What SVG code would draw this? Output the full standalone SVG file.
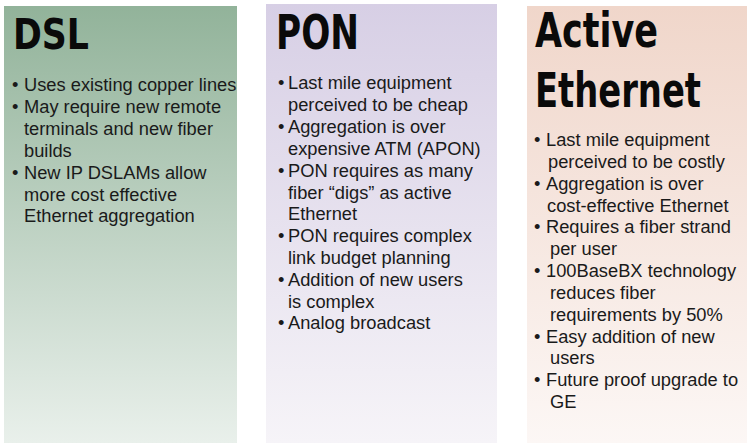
<svg xmlns="http://www.w3.org/2000/svg" width="747" height="443" viewBox="0 0 747 443">
<defs>
<linearGradient id="gDsl" x1="0" y1="0" x2="0" y2="1">
<stop offset="0" stop-color="#92b39a"/>
<stop offset="1" stop-color="#e9f0eb"/>
</linearGradient>
<linearGradient id="gPon" x1="0" y1="0" x2="0" y2="1">
<stop offset="0" stop-color="#d7cfe5"/>
<stop offset="1" stop-color="#f6f4f8"/>
</linearGradient>
<linearGradient id="gAe" x1="0" y1="0" x2="0" y2="1">
<stop offset="0" stop-color="#f0d6ca"/>
<stop offset="1" stop-color="#fcf7f5"/>
</linearGradient>
<style>
.title{font-family:"DejaVu Sans Condensed","Liberation Sans Narrow","Liberation Sans",sans-serif;font-weight:bold;fill:#0a0a0a}
.body{font-family:"Liberation Sans",Arial,sans-serif;font-size:18.3px;fill:#1a1a1a}
</style>
</defs>
<rect width="747" height="443" fill="#ffffff"/>
<g id="dsl">
<rect x="4" y="6" width="233" height="437" fill="url(#gDsl)"/>
<text class="title" x="13" y="48.5" font-size="42" textLength="76" lengthAdjust="spacingAndGlyphs">DSL</text>
<g class="body">
<text x="12" y="91">•</text><text x="24" y="91">Uses existing copper lines</text>
<text x="12" y="113">•</text><text x="24" y="113">May require new remote</text>
<text x="24" y="135">terminals and new fiber</text>
<text x="24" y="157">builds</text>
<text x="12" y="178.5">•</text><text x="24" y="178.5">New IP DSLAMs allow</text>
<text x="24" y="200.5">more cost effective</text>
<text x="24" y="222">Ethernet aggregation</text>
</g>
</g>
<g id="pon">
<rect x="266" y="4" width="231" height="439" fill="url(#gPon)"/>
<text class="title" x="276" y="48.5" font-size="48" textLength="83" lengthAdjust="spacingAndGlyphs">PON</text>
<g class="body">
<text x="278" y="89">•</text><text x="288" y="89">Last mile equipment</text>
<text x="288" y="111">perceived to be cheap</text>
<text x="278" y="133">•</text><text x="288" y="133">Aggregation is over</text>
<text x="288" y="154.5">expensive ATM (APON)</text>
<text x="278" y="176.5">•</text><text x="288" y="176.5">PON requires as many</text>
<text x="288" y="198.5">fiber “digs” as active</text>
<text x="288" y="220">Ethernet</text>
<text x="278" y="242">•</text><text x="288" y="242">PON requires complex</text>
<text x="288" y="264">link budget planning</text>
<text x="278" y="285.5">•</text><text x="288" y="285.5">Addition of new users</text>
<text x="288" y="307.5">is complex</text>
<text x="278" y="329">•</text><text x="288" y="329">Analog broadcast</text>
</g>
</g>
<g id="active-ethernet">
<rect x="527" y="6" width="220" height="437" fill="url(#gAe)"/>
<text class="title" x="535" y="47" font-size="48" textLength="123" lengthAdjust="spacingAndGlyphs">Active</text>
<text class="title" x="535" y="107" font-size="48" textLength="166" lengthAdjust="spacingAndGlyphs">Ethernet</text>
<g class="body">
<text x="534" y="146">•</text><text x="546" y="146">Last mile equipment</text>
<text x="548" y="168">perceived to be costly</text>
<text x="534" y="189.5">•</text><text x="546" y="189.5">Aggregation is over</text>
<text x="547" y="211.5">cost-effective Ethernet</text>
<text x="534" y="233">•</text><text x="546" y="233">Requires a fiber strand</text>
<text x="550" y="255">per user</text>
<text x="534" y="277">•</text><text x="546" y="277">100BaseBX technology</text>
<text x="550" y="299">reduces fiber</text>
<text x="550" y="320.5">requirements by 50%</text>
<text x="534" y="342.5">•</text><text x="546" y="342.5">Easy addition of new</text>
<text x="550" y="364">users</text>
<text x="534" y="386">•</text><text x="546" y="386">Future proof upgrade to</text>
<text x="550" y="408">GE</text>
</g>
</g>
</svg>
